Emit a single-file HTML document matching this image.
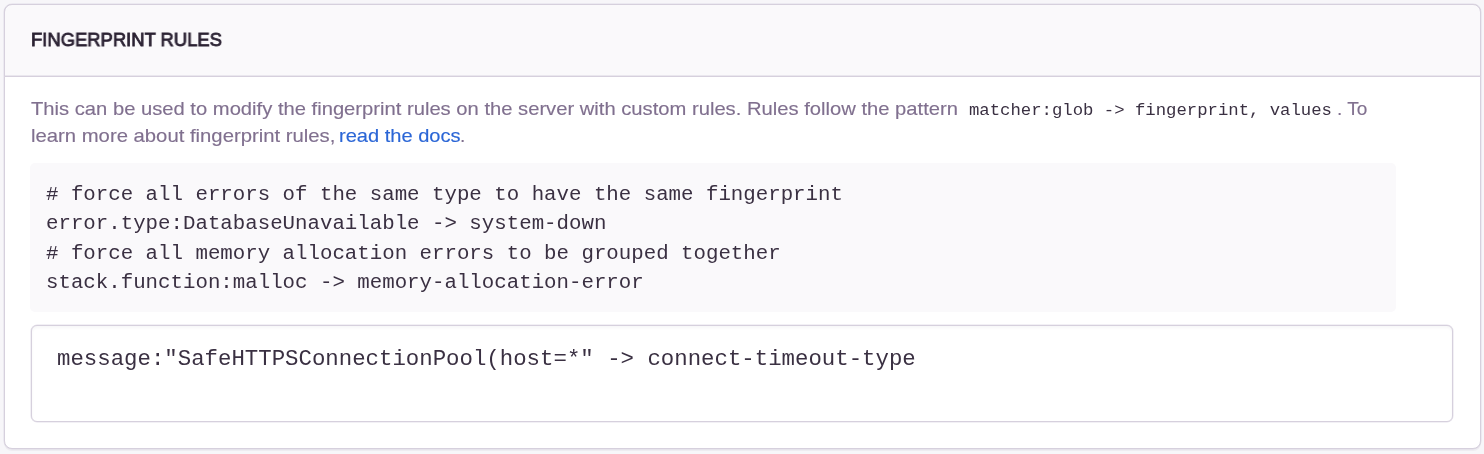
<!DOCTYPE html>
<html>
<head>
<meta charset="utf-8">
<style>
* { box-sizing: border-box; margin: 0; padding: 0; }
html, body { width: 1484px; height: 454px; overflow: hidden; background: #F7F6F9; }
body { font-family: "Liberation Sans", sans-serif; position: relative; }
.abs { position: absolute; white-space: pre; will-change: transform; }
.panel {
  position: absolute; left: 4px; top: 4px; width: 1477px; height: 445px;
  background: #FFFFFF; border: 1px solid #D6D0DD; border-radius: 8px;
  box-shadow: 0 0 0 0.5px rgba(214, 208, 221, 0.6), 0 2px 0 rgba(37, 11, 54, 0.04);
}
.hdr {
  position: absolute; left: 4px; top: 4px; width: 1477px; height: 73px;
  background: #FAF9FB; border: 1px solid #D6D0DD; border-radius: 8px 8px 0 0;
  box-shadow: inset 0 -1px 0 rgba(214, 208, 221, 0.45);
}
.ht { font-weight: normal; font-size: 18.6px; line-height: 20px; color: #2B2233; -webkit-text-stroke: 0.8px #2B2233; transform-origin: 0 0; transform: scaleX(0.99); }
.tx { font-size: 19px; line-height: 20px; color: #80708F; transform-origin: 0 0; -webkit-text-stroke: 0.15px #80708F; }
.tx a { color: #2B66D6; text-decoration: none; }
.mono { font-family: "Liberation Mono", monospace; color: #3A3042; }
.ic { font-size: 17.3px; line-height: 20px; }
.pre {
  position: absolute; left: 30px; top: 163px; width: 1366px; height: 149px;
  background: #FAF9FB; border-radius: 5px;
}
.pt { font-size: 20.75px; line-height: 29.4px; }
.ta {
  position: absolute; left: 31px; top: 325px; width: 1422px; height: 97px;
  border: 1px solid #D6D0DD; border-radius: 6px; background: #fff;
  box-shadow: 0 0 0 0.5px rgba(214, 208, 221, 0.6), inset 0 2px 3px rgba(37, 11, 54, 0.035);
}
.tt { font-size: 22.36px; line-height: 30px; }
</style>
</head>
<body>
<div class="panel"></div>
<div class="hdr"></div>
<div class="abs ht" id="h" style="left:31px; top:30px;">FINGERPRINT RULES</div>
<div class="abs tx" id="d1" style="left:31px; top:99px; transform: scaleX(1.0626);">This can be used to modify the fingerprint rules on the server with custom rules. Rules follow the pattern</div>
<div class="abs mono ic" id="c1" style="left:969.4px; top:101.4px;">matcher:glob -&gt; fingerprint, values</div>
<div class="abs tx" id="d2" style="left:1336.8px; top:99px; letter-spacing:0;">. To</div>
<div class="abs tx" id="d3" style="left:31px; top:126px; transform: scaleX(1.0673);">learn more about fingerprint rules,</div>
<div class="abs tx" id="a1" style="left:339px; top:126px; transform: scaleX(1.056); -webkit-text-stroke: 0.15px #2B66D6;"><a>read the docs</a></div>
<div class="abs tx" id="d4" style="left:460.3px; top:126px;">.</div>
<div class="pre"></div>
<div class="abs mono pt" id="pre" style="left:46.3px; top:179.5px;"># force all errors of the same type to have the same fingerprint
error.type:DatabaseUnavailable -&gt; system-down
# force all memory allocation errors to be grouped together
stack.function:malloc -&gt; memory-allocation-error</div>
<div class="ta"></div>
<div class="abs mono tt" id="ta" style="left:57px; top:344px;">message:"SafeHTTPSConnectionPool(host=*" -&gt; connect-timeout-type</div>
</body>
</html>
